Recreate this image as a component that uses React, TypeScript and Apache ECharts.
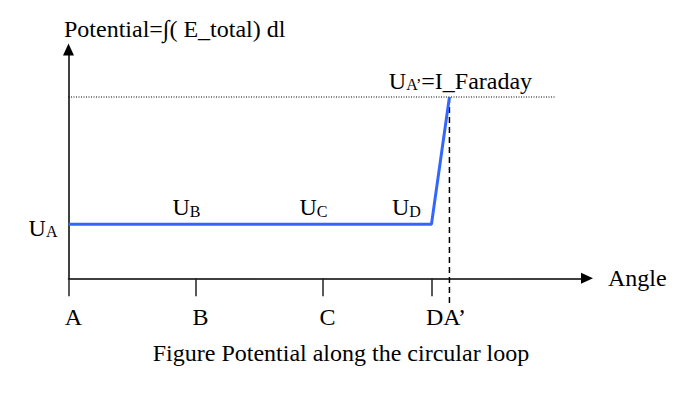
import React, { useEffect, useRef } from 'react';
import * as echarts from 'echarts';

// ---- data ----
const pointNames = ['A', 'B', 'C', 'D', 'A’'];
const angles = [0, 120, 240, 343, 360];
const potentials = [1, 1, 1, 1, 3.36];
const xTickValues = [0, 120, 240, 343];
const xTickLabels = ['A', 'B', 'C', 'DA’'];
const yTickValues = [1];
const yTickLabels = ['A'];
const faradayLevel = 3.36;
const faradayLineEnd = 460;
const dashedBottom = -0.5;
const xMax = 490;
const yMax = 4.24;

const FONT = '"Liberation Serif", "Times New Roman", Times, serif';
const BLUE = '#3366ff';

const rich = {
  u: { fontSize: 24, fontFamily: FONT, color: '#000', lineHeight: 24 },
  s: { fontSize: 16, fontFamily: FONT, color: '#000', lineHeight: 14, verticalAlign: 'bottom' },
  d: { fontSize: 24, fontFamily: FONT, color: '#000', lineHeight: 24, padding: [0, 0, 0, 19] },
};

const pointLabelOffsets: Record<string, number[]> = {
  B: [-9, 0],
  C: [-9, 0],
  D: [-25, 0],
  'A’': [11, 0],
};

function pointLabel(name: string) {
  if (name === 'A') return { show: false };
  const text = name === 'A’' ? '{u|U}{s|A’}{u|=I_Faraday}' : `{u|U}{s|${name}}`;
  return {
    show: true,
    position: 'top',
    distance: name === 'A’' ? 4 : 5,
    offset: pointLabelOffsets[name],
    formatter: text,
    rich,
  };
}

export default function App() {
  const ref = useRef<HTMLDivElement>(null);

  useEffect(() => {
    if (!ref.current) return;
    const chart = echarts.init(ref.current, undefined, { renderer: 'svg' });
    const textStyle = { fontSize: 24, fontFamily: FONT, fontWeight: 'normal', color: '#000', lineHeight: 24 };
    chart.setOption({
      animation: false,
      backgroundColor: '#fff',
      title: [
        { text: 'Potential=∫( E_total) dl', left: 64, top: 17, padding: 0, textStyle },
        { text: 'Figure Potential along the circular loop', left: 'center', top: 340.6, padding: 0, textStyle },
      ],
      grid: { left: 68.5, right: 95, top: 49.5, bottom: 117.7, containLabel: false },
      xAxis: {
        type: 'value',
        min: 0,
        max: xMax,
        name: 'Angle',
        nameLocation: 'end',
        nameGap: 21,
        nameTextStyle: { fontSize: 24, fontFamily: FONT, color: '#000', padding: [5, 0, 0, 0] },
        axisLine: {
          show: true,
          symbol: ['none', 'triangle'],
          symbolSize: [11, 12],
          lineStyle: { color: '#000', width: 1.5 },
        },
        axisTick: { show: true, customValues: xTickValues, length: 18, lineStyle: { color: '#222', width: 1.5 } },
        axisLabel: {
          show: true,
          customValues: xTickValues,
          margin: 27,
          fontSize: 24,
          fontFamily: FONT,
          color: '#000',
          padding: [0, 0, 0, 10],
          formatter: (v: number) => {
            const i = xTickValues.indexOf(v);
            const t = i >= 0 ? xTickLabels[i] : '';
            return i === 3 ? `{d|${t}}` : t;
          },
          rich,
        },
        splitLine: { show: false },
      },
      yAxis: {
        type: 'value',
        min: 0,
        max: yMax,
        axisLine: {
          show: true,
          symbol: ['none', 'triangle'],
          symbolSize: [11, 12],
          lineStyle: { color: '#000', width: 1.5 },
        },
        axisTick: { show: false },
        axisLabel: {
          show: true,
          customValues: yTickValues,
          margin: 11,
          padding: [7, 0, 0, 0],
          formatter: (v: number) => {
            const i = yTickValues.indexOf(v);
            return i >= 0 ? `{u|U}{s|${yTickLabels[i]}}` : '';
          },
          rich,
        },
        splitLine: { show: false },
      },
      series: [
        {
          name: 'I_Faraday level',
          type: 'line',
          data: [[0, faradayLevel], [faradayLineEnd, faradayLevel]],
          symbol: 'none',
          lineStyle: { color: '#000', width: 1.2, type: [1, 1.5] },
          silent: true,
        },
        {
          name: 'A’ marker',
          type: 'line',
          data: [[angles[4], faradayLevel], [angles[4], dashedBottom]],
          symbol: 'none',
          clip: false,
          lineStyle: { color: '#000', width: 1.5, type: [6, 4] },
          silent: true,
        },
        {
          name: 'Potential',
          type: 'line',
          data: angles.map((a, i) => ({
            name: pointNames[i],
            value: [a, potentials[i]],
            label: pointLabel(pointNames[i]),
          })),
          symbol: 'circle',
          symbolSize: 0,
          showSymbol: true,
          itemStyle: { color: BLUE },
          lineStyle: { color: BLUE, width: 3 },
          z: 5,
        },
      ],
    });
    return () => chart.dispose();
  }, []);

  return (
    <div
      ref={ref}
      style={{ position: 'fixed', left: 0, top: 0, width: 682, height: 396 }}
    />
  );
}
